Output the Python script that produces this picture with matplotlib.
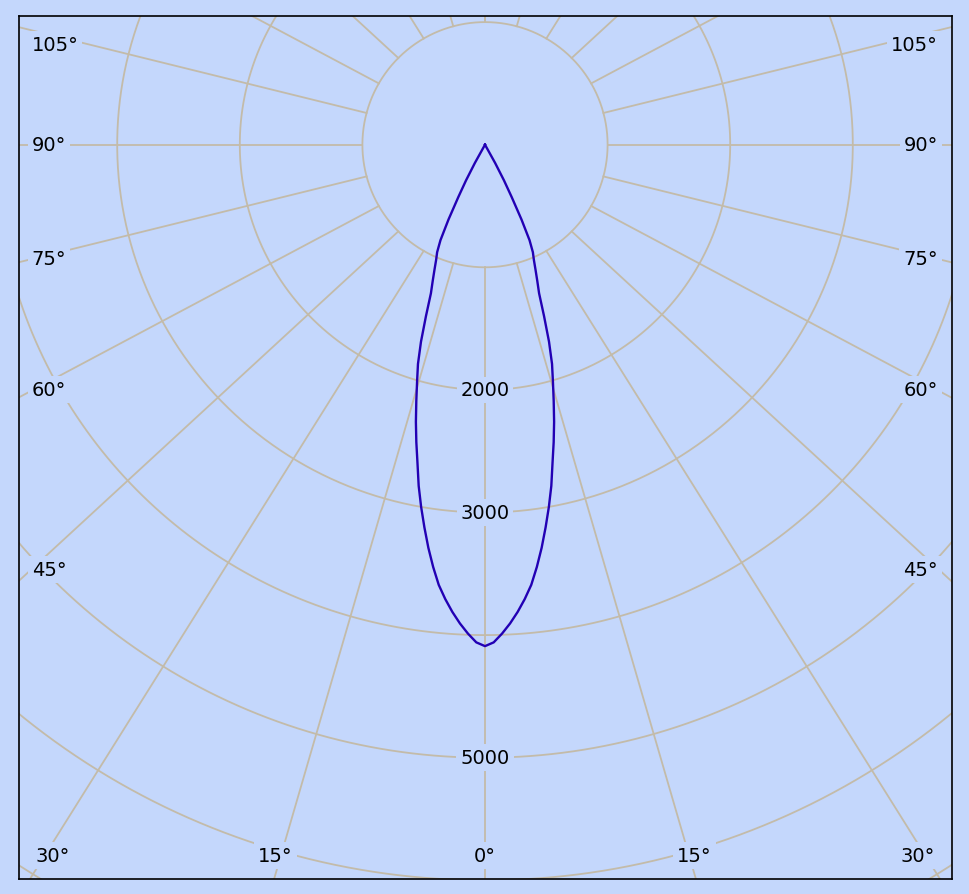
import matplotlib
matplotlib.use("Agg")
import matplotlib.pyplot as plt
import numpy as np

# luminous intensity (cd) vs angle from nadir (deg), symmetric beam
angles = [0, 1, 2, 3, 4, 5, 6, 7, 8, 9, 10, 11, 12, 13, 14, 15,
          16, 17, 18, 19, 20, 21, 22, 23, 24, 25, 26, 27, 28, 29, 30]
intensity = [4090, 4060, 3990, 3910, 3820, 3720, 3610, 3470, 3320, 3160, 3000,
             2835, 2650, 2490, 2330, 2165, 2010, 1870, 1690, 1480, 1290,
             1190, 1100, 1020, 960, 860, 680, 480, 330, 170, 0]

rings = [1000, 2000, 3000, 4000, 5000, 6000, 7000]
ring_labels = [2000, 3000, 5000]
spoke_angles = list(range(-180, 181, 15))
side_labels = [105, 90, 75, 60, 45]
bottom_labels = [30, 15, 0]

bg = "#C4D7FC"
grid_c = "#C3BBA9"
curve_c = "#2200B4"

# picture geometry (pixels)
W, H = 969, 895
cx, cy = 485, 145.7
s = 0.1226          # px per cd
fl, fr, ft, fb = 19, 952, 17, 880
k = 1.075           # horizontal stretch of the spokes

fig = plt.figure(figsize=(W / 100, H / 100), dpi=100, facecolor=bg)
ax = fig.add_axes([fl / W, (H - fb) / H, (fr - fl) / W, (fb - ft) / H])
ax.set_facecolor(bg)
ax.set_xlim((fl - cx) / s, (fr - cx) / s)
ax.set_ylim((cy - fb) / s, (cy - ft) / s)
ax.set_xticks([])
ax.set_yticks([])
for sp in ax.spines.values():
    sp.set_color("black")
    sp.set_linewidth(1.2)

t = np.linspace(0, 2 * np.pi, 720)
for r in rings:
    ax.plot(r * np.sin(t), r * np.cos(t), color=grid_c, lw=1.3, zorder=1)

R = 8000
r0 = rings[0]
for a in spoke_angles:
    th = np.radians(a)
    x0, y0 = r0 * np.sin(th), -r0 * np.cos(th)
    x1, y1 = R * k * np.sin(th), -R * np.cos(th)
    ax.plot([x0, x1], [y0, y1], color=grid_c, lw=1.3, zorder=1)

lbl = dict(fontsize=14, family="DejaVu Sans", color="black", zorder=3,
           bbox=dict(boxstyle="square,pad=0.2", fc=bg, ec="none"))

for r in ring_labels:
    ax.text(0, -r, str(r), ha="center", va="center", **lbl)

# angle labels: sides (left/right aligned), bottom (centred)
x_in = (485 - 47.8) / s
y_top, y_bot = (cy - 45.5) / s, (cy - 856.5) / s
for a in side_labels:
    th = np.radians(a)
    y = -x_in / (1.03 * np.tan(th)) if a != 90 else 0.0
    y = min(max(y, y_bot), y_top)
    ax.text((31.7 - cx) / s, y, f"{a}°", ha="left", va="center", **lbl)
    ax.text((938 - cx) / s, y, f"{a}°", ha="right", va="center", **lbl)
for a in bottom_labels:
    x = min(-y_bot * 1.1 * np.tan(np.radians(a)), (cx - 52.7) / s)
    for sign in ([-1, 1] if a else [1]):
        ax.text(sign * x, y_bot, f"{a}°", ha="center", va="center", **lbl)

# curve: mirror the half-beam
th = np.radians(np.array(angles, dtype=float))
I = np.array(intensity, dtype=float)
th_full = np.concatenate([-th[::-1], th[1:]])
I_full = np.concatenate([I[::-1], I[1:]])
ax.plot(I_full * np.sin(th_full), -I_full * np.cos(th_full),
        color=curve_c, lw=1.7, zorder=4)

fig.savefig("out.png", dpi=100, facecolor=bg)
